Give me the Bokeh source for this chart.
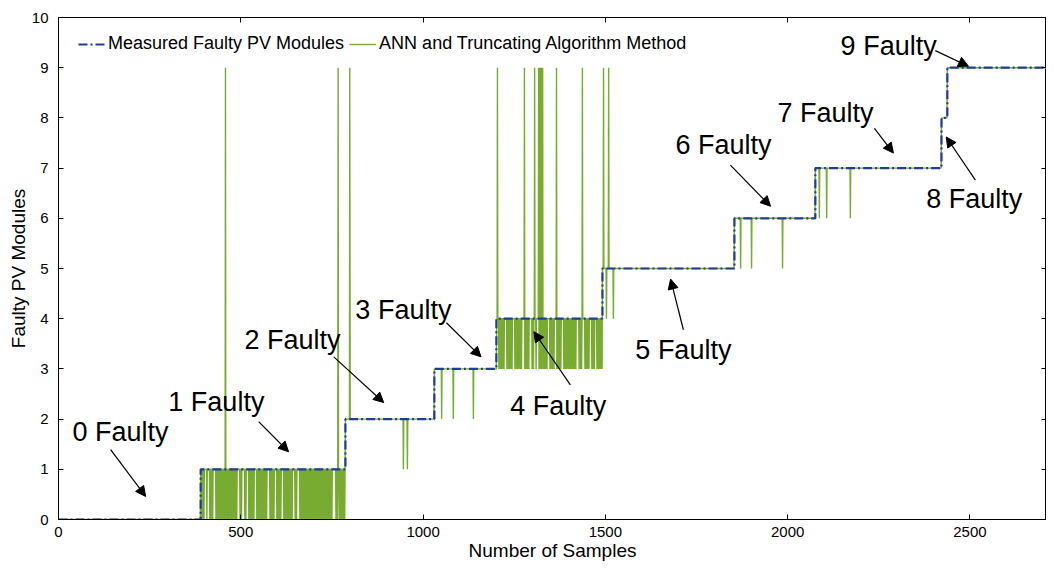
import numpy as np
from bokeh.plotting import figure
from bokeh.models import (Range1d, LinearAxis, Legend, LegendItem, Arrow, NormalHead,
                          FixedTicker, ColumnDataSource)
from bokeh.core.properties import value
from bokeh.embed import file_html
from bokeh.resources import INLINE

# ---------------- data ----------------
# measured number of faulty PV modules: sample where each level starts
step_samples = [0, 390, 787, 1031, 1201, 1492, 1854, 2076, 2422, 2438]
step_levels = [0, 1, 2, 3, 4, 5, 6, 7, 8, 9]
last_sample = 2732
x_view_end = 2710

# ANN output: samples in the "1 Faulty" stretch where it reads 0
region1_drops = [392, 395, 399, 407, 415, 419, 423, 432, 436, 440, 443, 447, 451, 455,
                 459, 463, 466, 470, 474, 478, 482, 486, 489, 498, 502, 511, 514, 522,
                 526, 529, 533, 536, 544, 548, 551, 555, 559, 563, 567, 571, 580, 584,
                 587, 591, 599, 603, 606, 610, 618, 622, 626, 629, 633, 637, 641, 649,
                 653, 662, 666, 670, 673, 677, 681, 685, 689, 692, 696, 700, 704, 708,
                 711, 715, 719, 723, 727, 730, 734, 738, 742, 746, 750, 761, 765, 770,
                 774, 778, 782, 785]
# ANN output: samples in the "4 Faulty" stretch where it reads 3
region4_drops = [1201, 1208, 1212, 1215, 1219, 1222, 1230, 1234, 1237, 1241, 1244, 1252,
                 1256, 1259, 1263, 1267, 1270, 1279, 1283, 1287, 1290, 1299, 1303, 1306,
                 1310, 1318, 1322, 1325, 1329, 1333, 1336, 1340, 1348, 1352, 1355, 1359,
                 1367, 1371, 1374, 1378, 1386, 1390, 1393, 1397, 1401, 1404, 1408, 1412,
                 1415, 1419, 1428, 1432, 1435, 1444, 1448, 1451, 1455, 1463, 1466, 1470,
                 1477, 1481, 1484, 1488, 1491]
# ANN output: isolated misclassified samples
spike_samples = [458, 767, 799, 946, 957, 1051, 1083, 1138, 1204, 1278, 1306, 1317, 1320,
                 1323, 1326, 1328, 1366, 1437, 1495, 1503, 1509, 1522, 1871, 1901, 1986,
                 2087, 2107, 2172]
spike_values = [9, 9, 9, 1, 1, 2, 2, 2, 9, 9, 9, 9, 9,
                9, 9, 9, 9, 9, 9, 4, 9, 4, 5, 5, 5,
                6, 6, 6]

x_ticks = [0, 500, 1000, 1500, 2000, 2500]
y_ticks = [0, 1, 2, 3, 4, 5, 6, 7, 8, 9, 10]

annot_labels = ["0 Faulty", "1 Faulty", "2 Faulty", "3 Faulty", "4 Faulty",
                "5 Faulty", "6 Faulty", "7 Faulty", "8 Faulty", "9 Faulty"]

# ---------------- series ----------------
samples = np.arange(last_sample + 1)
idx = np.searchsorted(np.array(step_samples), samples, side="right") - 1
measured = np.array(step_levels)[idx].astype(float)
ann = measured.copy()
ann[region1_drops] = 0
ann[region4_drops] = 3
ann[spike_samples] = spike_values

step_x = step_samples + [last_sample]
step_y = step_levels + [step_levels[-1]]

FONT_NAME = "Liberation Sans"
FONT = value(FONT_NAME)
BLUE = "#1f3d9a"
GREEN = "#77ac30"

p = figure(width=1046, height=563, x_range=Range1d(0, x_view_end), y_range=Range1d(0, 10),
           output_backend="svg", toolbar_location=None,
           min_border_left=58, min_border_right=0, min_border_top=17, min_border_bottom=43)
p.xgrid.visible = False
p.ygrid.visible = False
p.outline_line_color = "black"
p.background_fill_color = "white"

green = p.line(samples, ann, line_color=GREEN, line_width=1.4)
blue = p.step(step_x, step_y, mode="after", line_color=BLUE, line_width=2.2,
              line_dash="9 3 2 3")

xb = p.below[0]
yl = p.left[0]
xb.ticker = FixedTicker(ticks=x_ticks)
xb.axis_label = "Number of Samples"
yl.ticker = FixedTicker(ticks=y_ticks)
yl.axis_label = "Faulty PV Modules"

top = LinearAxis(ticker=FixedTicker(ticks=x_ticks))
right = LinearAxis(ticker=FixedTicker(ticks=y_ticks))
p.add_layout(top, "above")
p.add_layout(right, "right")

for ax in [xb, yl, top, right]:
    ax.major_tick_in = 5
    ax.major_tick_out = 0
    ax.minor_tick_line_color = None
    ax.axis_line_color = "black"
    ax.major_tick_line_color = "black"
    ax.major_label_text_font = FONT_NAME
    ax.axis_label_text_font = FONT_NAME
    ax.axis_label_text_font_style = "normal"
    ax.axis_label_text_font_size = "19px"
    ax.axis_label_text_color = "black"
    ax.major_label_text_color = "black"

for ax in [top, right]:
    ax.major_label_text_font_size = "0px"
    ax.major_label_standoff = 0

for ax in [xb, yl]:
    ax.major_label_text_font_size = "15px"
xb.major_label_standoff = 7
xb.axis_label_standoff = 0
yl.major_label_standoff = 10
yl.axis_label_standoff = 0

# annotations
ann_x = [170, 433, 642, 946, 1371, 1714, 1824, 2104, 2512, 2277]
ann_y = [1.75, 2.35, 3.58, 4.17, 2.27, 3.38, 7.46, 8.09, 6.38, 9.44]
p.text(x=ann_x, y=ann_y, text=annot_labels, text_font=FONT, text_font_size="27px",
       text_align="center", text_baseline="middle", text_color="black")

arrow_src = ColumnDataSource(dict(
    xs=[143, 549, 755, 1064, 1404, 1714, 1843, 2238, 2515, 2405],
    ys=[1.39, 1.95, 3.24, 3.92, 2.68, 3.78, 7.06, 7.79, 6.76, 9.34],
    xe=[239, 631, 892, 1159, 1304, 1679, 1953, 2290, 2435, 2496],
    ye=[0.46, 1.35, 2.33, 3.24, 3.74, 4.79, 6.24, 7.30, 7.62, 9.03],
))
p.add_layout(Arrow(x_start="xs", y_start="ys", x_end="xe", y_end="ye", source=arrow_src,
                   line_color="black", line_width=1.2,
                   end=NormalHead(size=10, fill_color="black", line_color="black")))

legend = Legend(items=[LegendItem(label="Measured Faulty PV Modules", renderers=[blue]),
                       LegendItem(label="ANN and Truncating Algorithm Method", renderers=[green])],
                orientation="horizontal", location=(20, 465), margin=0, padding=0,
                spacing=5, glyph_width=27, glyph_height=18, label_height=18,
                label_standoff=3, label_text_font=FONT_NAME, label_text_font_size="18px",
                label_text_color="black",
                border_line_alpha=0, background_fill_alpha=0)
p.add_layout(legend)

open("out.html", "w").write(file_html(p, INLINE))
